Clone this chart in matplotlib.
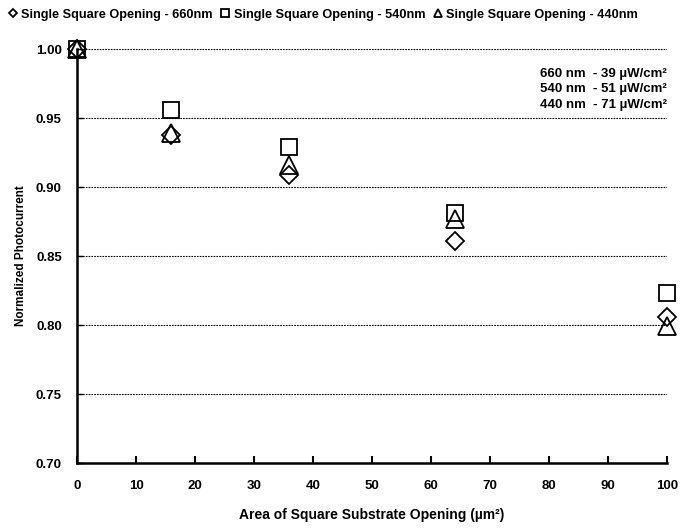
import matplotlib
matplotlib.use("Agg")
import matplotlib.pyplot as plt

plt.rcParams['font.family'] = ['Liberation Sans', 'DejaVu Sans']
plt.rcParams['font.weight'] = 'bold'

area = [0, 16, 36, 64, 100]
nm660 = [1.000, 0.938, 0.909, 0.861, 0.806]
nm540 = [1.000, 0.956, 0.929, 0.881, 0.823]
nm440 = [1.000, 0.939, 0.916, 0.877, 0.799]
labels = ["Single Square Opening - 660nm", "Single Square Opening - 540nm", "Single Square Opening - 440nm"]
notes = ["660 nm  - 39 µW/cm²", "540 nm  - 51 µW/cm²", "440 nm  - 71 µW/cm²"]
xticks = [0, 10, 20, 30, 40, 50, 60, 70, 80, 90, 100]
yticks = [0.70, 0.75, 0.80, 0.85, 0.90, 0.95, 1.00]

fig = plt.figure(figsize=(6.82, 5.28), dpi=100)
ax = fig.add_axes([0.113, 0.123, 0.865, 0.784])

mk = dict(linestyle='none', markerfacecolor='none', markeredgecolor='black', markeredgewidth=1.3, clip_on=False)
ax.plot(area, nm660, marker='D', markersize=9.5, label=labels[0], **mk)
ax.plot(area, nm540, marker='s', markersize=12, label=labels[1], **mk)
ax.plot(area, nm440, marker='^', markersize=13, label=labels[2], **mk)

ax.set_xlim(0, 100)
ax.set_ylim(0.70, 1.00)
ax.set_xticks(xticks)
ax.set_yticks(yticks)
ax.set_xticklabels([str(t) for t in xticks], fontsize=9.5, fontweight='bold')
ax.set_yticklabels([f"{t:.2f}" for t in yticks], fontsize=9.5, fontweight='bold')
ax.tick_params(axis='x', direction='in', length=5, width=1.5, pad=12)
ax.tick_params(axis='y', direction='in', length=4, width=1.0, pad=11)
ax.yaxis.grid(True, color='black', linestyle=(0, (1.5, 1)), linewidth=0.8)
ax.set_axisbelow(True)
for s in ['top', 'right']:
    ax.spines[s].set_visible(False)
for s in ['left', 'bottom']:
    ax.spines[s].set_linewidth(1.8)

ax.set_xlabel("Area of Square Substrate Opening (µm²)", fontsize=10, fontweight='bold', labelpad=12)
ax.set_ylabel("Normalized Photocurrent", fontsize=8.5, fontweight='bold', labelpad=6)

for note, yf in zip(notes, [0.941, 0.904, 0.866]):
    ax.text(1.0, yf, note, transform=ax.transAxes, ha='right', va='center', fontsize=9.5, fontweight='bold')

leg = fig.legend(loc='upper left', bbox_to_anchor=(0.0, 1.0), ncol=3, frameon=False,
                 fontsize=9.2, markerscale=0.45, handlelength=0.6, handletextpad=0.35, columnspacing=0.7,
                 borderaxespad=0.3)
for t in leg.get_texts():
    t.set_fontweight('bold')

fig.savefig("out.png", dpi=100)
